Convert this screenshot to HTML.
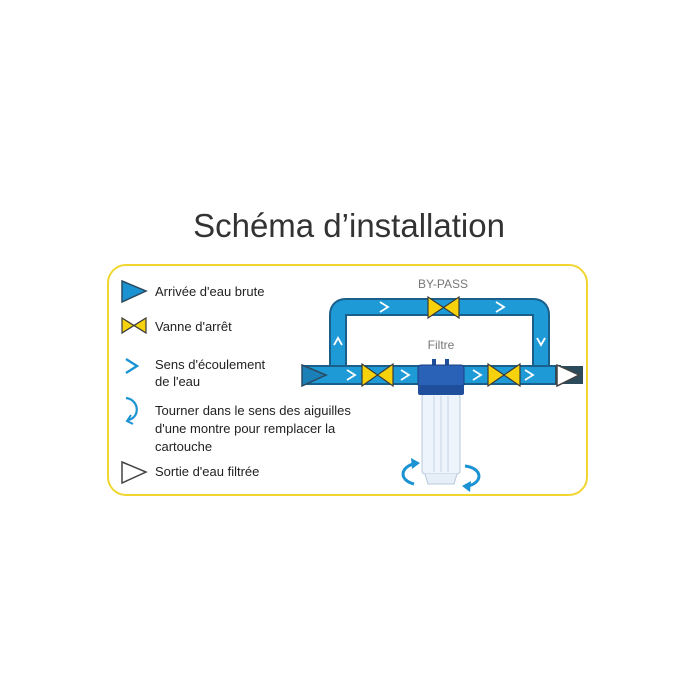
<!DOCTYPE html>
<html><head><meta charset="utf-8"><style>
html,body{margin:0;padding:0;background:#fff;}
svg{display:block;font-family:"Liberation Sans",sans-serif;}
</style></head><body>
<svg width="700" height="700" viewBox="0 0 700 700">
<text x="349" y="237" text-anchor="middle" font-size="33" fill="#333">Schéma d’installation</text>
<rect x="108" y="265" width="479" height="230" rx="18" fill="#fff" stroke="#f2d630" stroke-width="2"/>
<!-- legend -->
<polygon points="122,281 146,291 122,302" fill="#1b93d2" stroke="#2a4a60" stroke-width="1.5"/>
<text x="155" y="296" font-size="13" fill="#222">Arrivée d'eau brute</text>
<polygon points="122,318 146,333 146,318 122,333" fill="#f5d20c" stroke="#3a3a3a" stroke-width="1.2"/>
<text x="155" y="331" font-size="13" fill="#222">Vanne d'arrêt</text>
<polyline points="126,359 137,366 126,373" fill="none" stroke="#1b93d2" stroke-width="2.4"/>
<text x="155" y="369" font-size="13" fill="#222">Sens d'écoulement</text>
<text x="155" y="386" font-size="13" fill="#222">de l'eau</text>
<path d="M126,398 C140,400 140,418 128,420" fill="none" stroke="#1b93d2" stroke-width="2.2"/>
<polyline points="131,415 127,421 133,424" fill="none" stroke="#1b93d2" stroke-width="2"/>
<text x="155" y="415" font-size="13" fill="#222">Tourner dans le sens des aiguilles</text>
<text x="155" y="433" font-size="13" fill="#222">d'une montre pour remplacer la</text>
<text x="155" y="451" font-size="13" fill="#222">cartouche</text>
<polygon points="122,462 146,472 122,483" fill="#fff" stroke="#444" stroke-width="1.5"/>
<text x="155" y="476" font-size="13" fill="#222">Sortie d'eau filtrée</text>
<!-- pipes -->
<path d="M338,375 V315 Q338,307 346,307 H533 Q541,307 541,315 V375" fill="none" stroke="#1a5e8a" stroke-width="18"/>
<path d="M338,375 V315 Q338,307 346,307 H533 Q541,307 541,315 V375" fill="none" stroke="#1e9ad6" stroke-width="14"/>
<rect x="304" y="366" width="256" height="18" fill="#1e9ad6" stroke="#1a5e8a" stroke-width="2"/>
<rect x="555" y="366" width="28" height="18" fill="#2b4a5a"/>
<polygon points="302,365 326,375 302,386" fill="#1b7fb8" stroke="#2a4a60" stroke-width="1.5"/>
<polygon points="557,365 579,375 557,386" fill="#fff" stroke="#444" stroke-width="1.5"/>
<!-- valves -->
<g stroke="#3a3a3a" stroke-width="1.2" fill="#f5d20c">
<polygon points="362,364 393,386 393,364 362,386"/>
<polygon points="488,364 520,386 520,364 488,386"/>
<polygon points="428,297 459,318 459,297 428,318"/>
</g>
<text x="443" y="288" text-anchor="middle" font-size="12" fill="#777">BY-PASS</text>
<text x="441" y="349" text-anchor="middle" font-size="12" fill="#777">Filtre</text>
<!-- chevrons -->
<g fill="none" stroke="#fff" stroke-width="1.8">
<polyline points="347,370 355,375 347,380"/>
<polyline points="401,370 409,375 401,380"/>
<polyline points="473,370 481,375 473,380"/>
<polyline points="525,370 533,375 525,380"/>
<polyline points="380,302 388,307 380,312"/>
<polyline points="496,302 504,307 496,312"/>
<polyline points="334,345 338,338 342,345"/>
<polyline points="537,338 541,345 545,338"/>
</g>
<!-- filter -->
<rect x="422" y="394" width="38" height="80" rx="3" fill="#eef4fb" stroke="#b8c8dc" stroke-width="1"/>
<path d="M425,474 L428,484 H454 L457,474" fill="#e6eef8" stroke="#b8c8dc"/>
<line x1="434" y1="396" x2="434" y2="472" stroke="#c6d4e4"/>
<line x1="441" y1="396" x2="441" y2="472" stroke="#c6d4e4"/>
<line x1="448" y1="396" x2="448" y2="472" stroke="#c6d4e4"/>
<rect x="432" y="359" width="4" height="8" fill="#1f4f9c"/>
<rect x="445" y="359" width="4" height="8" fill="#1f4f9c"/>
<rect x="418" y="365" width="46" height="22" rx="3" fill="#2a62b8" stroke="#1c3f80"/>
<rect x="418" y="385" width="46" height="10" rx="2" fill="#1f4f9c"/>
<!-- rotation arrows -->
<path d="M417,463 C400,466 398,480 414,484" fill="none" stroke="#1b93d2" stroke-width="3"/>
<polygon points="411,458 420,463 412,469" fill="#1b93d2"/>
<path d="M465,466 C482,468 484,482 468,486" fill="none" stroke="#1b93d2" stroke-width="3"/>
<polygon points="471,481 462,486 470,492" fill="#1b93d2"/>
</svg>
</body></html>
